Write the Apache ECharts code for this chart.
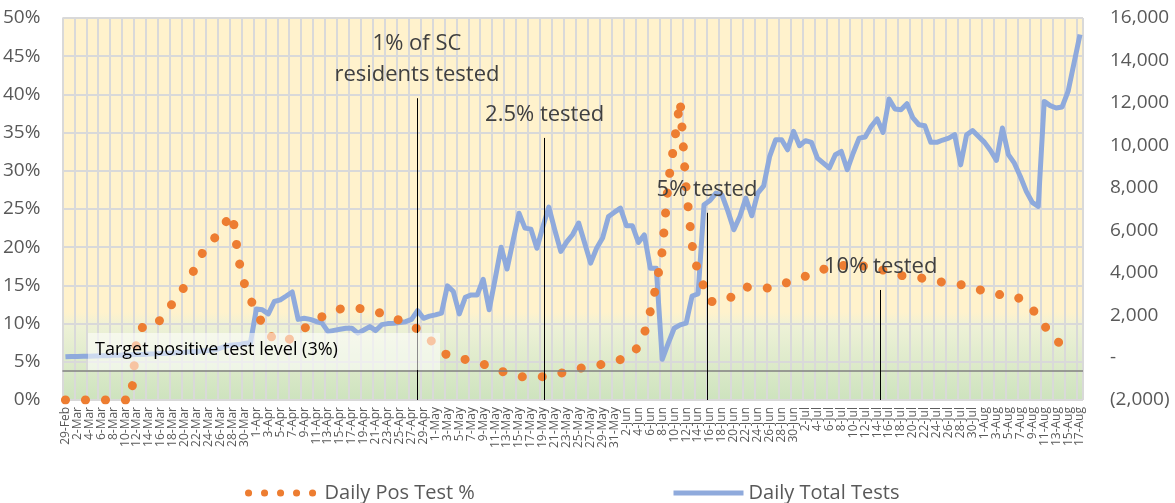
<!DOCTYPE html>
<html>
<head>
    <meta charset="utf-8">
    <title>SC testing</title>
    <script src="https://cdn.jsdelivr.net/npm/echarts@6/dist/echarts.min.js"></script>
</head>
<body style="margin:0;background:#fff;">
    <div id="main" style="width:1175px;height:503px;"></div>
    <script type="text/javascript">
        // daily positive test % (29-Feb .. 15-Aug)
        var posPct = [0, 0, 0, 0, 0, 0, 0, 0, 0, 0, 0, 0,
            8.5, 9.6, 9.6, 9.7, 10.6, 11.7, 12.7, 13.7, 14.9, 16.1, 17.8, 19.3, 20.1, 21.2, 22.5, 23.4, 24.3,
            18.4, 15.2, 13.2, 11.5, 10.0, 8.7, 7.9, 7.6, 7.8, 8.1, 8.5, 9.3, 10.1,
            10.5, 10.9, 11.3, 11.6, 11.9, 12.1, 12.1, 12.0, 11.9, 11.8, 11.6, 11.3, 11.1, 10.8, 10.4, 10.1, 9.7, 9.3, 8.9,
            8.0, 7.1, 6.3, 5.9, 5.6, 5.5, 5.3, 5.2, 4.9, 4.7, 4.4, 4.1, 3.8, 3.5, 3.3, 3.1, 3.0, 3.0, 3.0, 3.05, 3.1,
            3.3, 3.5, 3.7, 3.9, 4.1, 4.3, 4.4, 4.5, 4.7, 4.8, 5.0, 5.3, 5.5, 6.1, 7.0, 8.7, 11.6,
            15.0, 19.5, 28.4, 33.6, 39.2, 27.8, 20.3, 16.6, 14.8, 12.9,
            12.9, 13.0, 13.1, 13.8, 14.5, 14.8, 14.7, 14.6, 14.6, 14.7, 14.8, 15.1, 15.4, 15.7, 15.9, 16.2, 16.6, 16.9,
            17.1, 17.3, 17.5, 17.6, 17.6, 17.7, 17.6, 17.5, 17.4, 17.3, 17.0, 16.7, 16.4, 16.3, 16.2, 16.1, 16.0, 15.9,
            15.8, 15.6, 15.4, 15.3, 15.2, 15.1, 15.0, 14.8, 14.5, 14.2, 13.9, 13.8, 13.8, 13.7, 13.7, 13.2, 12.6, 11.9,
            10.9, 9.8, 8.6, 7.8, 7.2, 6.6];

        // daily total tests (29-Feb .. 17-Aug)
        var totalTests = [40, 55, 50, 65, 60, 75, 85, 90, 105, 110, 125, 130, 150, 145, 170, 175, 190, 200, 215, 240,
            250, 280, 290, 320, 330, 360, 450, 550, 590, 610, 660, 700,
            2290, 2250, 2060, 2640, 2720, 2900, 3090, 1800, 1850, 1800, 1700, 1620, 1220, 1280, 1330, 1380, 1380, 1150,
            1300, 1460, 1270, 1550, 1600, 1620, 1650, 1690, 1800, 2210, 1850, 1950, 2010, 2090, 3380, 3110, 2060, 2840,
            2950, 2950, 3690, 2250, 3700, 5200, 4170, 5500, 6800, 6100, 6050, 5150, 6170, 7090, 6000, 5000, 5450, 5800,
            6340, 5400, 4450, 5150, 5630, 6650, 6850, 7040, 6210, 6210, 5420, 5780, 4210, 4210, -80, 670, 1380, 1540,
            1620, 2900, 3000, 7200, 7400, 7750, 7670, 6900, 6020, 6650, 7510, 6680, 7750, 8090, 9480, 10260, 10260,
            9790, 10660, 9980, 10220, 10140, 9400, 9160, 8930, 9560, 9710, 8850, 9640, 10340, 10390, 10890, 11240,
            10610, 12180, 11710, 11680, 11960, 11290, 10970, 10920, 10140, 10140, 10250, 10340, 10500, 9080, 10500,
            10700, 10420, 10140, 9760, 9290, 10820, 9560, 9160, 8530, 7830, 7310, 7120, 12070, 11870, 11760, 11810,
            12540, 13880, 15220];

        // milestones: day index from 29-Feb, top of marker line (%), text
        var milestoneDays = [58.9, 80.3, 107.5, 136.6];
        var milestoneTops = [39.5, 34.3, 24.5, 14.4];
        var milestoneLabels = ['1% of SC\nresidents tested', '2.5% tested', '5% tested', '10% tested'];

        var targetLevel = 3.8;

        var months = ['Jan', 'Feb', 'Mar', 'Apr', 'May', 'Jun', 'Jul', 'Aug'];
        var dayLabels = [];
        for (var i = 0; i < totalTests.length; i++) {
            var d = new Date(2020, 1, 29 + i);
            dayLabels.push(d.getDate() + '-' + months[d.getMonth()]);
        }

        var font = 'Open Sans';
        var myChart = echarts.init(document.getElementById('main'));

        var noSymbol = { color: 'rgba(0,0,0,0)', borderColor: 'rgba(0,0,0,0)', borderWidth: 0 };

        var option = {
            animation: false,
            textStyle: { fontFamily: font },
            grid: {
                left: 60, right: 92, top: 18, bottom: 103,
                show: true, borderWidth: 0,
                backgroundColor: new echarts.graphic.LinearGradient(0, 0, 0, 1, [
                    { offset: 0, color: '#FFF2CC' },
                    { offset: 0.77, color: '#FFF2CC' },
                    { offset: 0.81, color: '#EDF1D6' },
                    { offset: 1, color: '#CDE3BE' }
                ])
            },
            legend: [{
                left: 240, top: 478, itemWidth: 71, itemHeight: 20, itemGap: 6,
                textStyle: { fontSize: 20, color: '#595959', fontFamily: font },
                itemStyle: noSymbol,
                lineStyle: { color: '#ED7D31', width: 7, type: [0.1, 15.9], cap: 'round' },
                data: ['Daily Pos Test %']
            }, {
                left: 666, top: 478, itemWidth: 70, itemHeight: 20, itemGap: 8,
                textStyle: { fontSize: 20, color: '#595959', fontFamily: font },
                itemStyle: noSymbol,
                lineStyle: { color: '#8FAADC', width: 5 },
                data: ['Daily Total Tests']
            }],
            xAxis: [{
                type: 'category',
                data: dayLabels,
                boundaryGap: true,
                axisLine: { show: false },
                axisTick: { show: false },
                axisLabel: { interval: 1, rotate: 90, fontSize: 12, color: '#595959', margin: 7 },
                splitLine: { show: true, interval: 1, lineStyle: { color: '#D9D9D9', width: 2 } }
            }, {
                type: 'value', show: false, min: -0.5, max: dayLabels.length - 0.5
            }],
            yAxis: [{
                type: 'value', min: 0, max: 50, interval: 5,
                axisLine: { show: false }, axisTick: { show: false },
                axisLabel: { formatter: '{value}%', fontSize: 19, color: '#595959', margin: 22 },
                splitLine: { lineStyle: { color: '#D9D9D9', width: 2 } }
            }, {
                type: 'value', min: -2000, max: 16000, interval: 2000, position: 'right',
                axisLine: { show: false }, axisTick: { show: false },
                splitLine: { show: false },
                axisLabel: {
                    fontSize: 19, color: '#595959', margin: 27,
                    formatter: function (v) {
                        if (v === 0) return '-';
                        var s = Math.abs(v).toLocaleString('en-US');
                        return v < 0 ? '(' + s + ')' : s;
                    }
                }
            }],
            series: [{
                name: 'Daily Total Tests',
                type: 'line',
                yAxisIndex: 1,
                data: totalTests,
                symbol: 'none',
                z: 2,
                lineStyle: { color: '#8FAADC', width: 5, join: 'round' },
                itemStyle: { color: '#8FAADC' }
            }, {
                name: 'Daily Pos Test %',
                type: 'line',
                yAxisIndex: 0,
                data: posPct,
                symbol: 'none',
                z: 3,
                lineStyle: { color: '#ED7D31', width: 9, type: [0.1, 19.9], cap: 'round' },
                itemStyle: { color: '#ED7D31' },
                markLine: {
                    silent: true,
                    symbol: ['none', 'none'],
                    label: { show: false },
                    lineStyle: { color: '#808080', width: 1.5, type: 'solid' },
                    data: [{ yAxis: targetLevel }]
                }
            }, {
                name: 'milestones',
                type: 'line',
                xAxisIndex: 1,
                yAxisIndex: 0,
                data: [],
                silent: true,
                z: 4,
                markLine: {
                    silent: true,
                    symbol: ['none', 'none'],
                    lineStyle: { color: '#000', width: 1, type: 'solid' },
                    label: {
                        show: true, position: 'start', distance: 8, formatter: '{b}',
                        fontSize: 22, lineHeight: 31, color: '#404040', fontFamily: font
                    },
                    data: milestoneDays.map(function (day, k) {
                        return [
                            { name: milestoneLabels[k], coord: [day, milestoneTops[k]] },
                            { coord: [day, 0] }
                        ];
                    })
                }
            }],
            graphic: [{
                type: 'rect', left: 88, top: 333, z: 100, silent: true,
                shape: { width: 352, height: 37 },
                style: { fill: 'rgba(255,255,255,0.55)' }
            }, {
                type: 'text', left: 95, top: 341, z: 101, silent: true,
                style: {
                    text: 'Target positive test level (3%)', fill: '#000',
                    font: '18px "Open Sans"'
                }
            }]
        };

        myChart.setOption(option);
    </script>
</body>
</html>
